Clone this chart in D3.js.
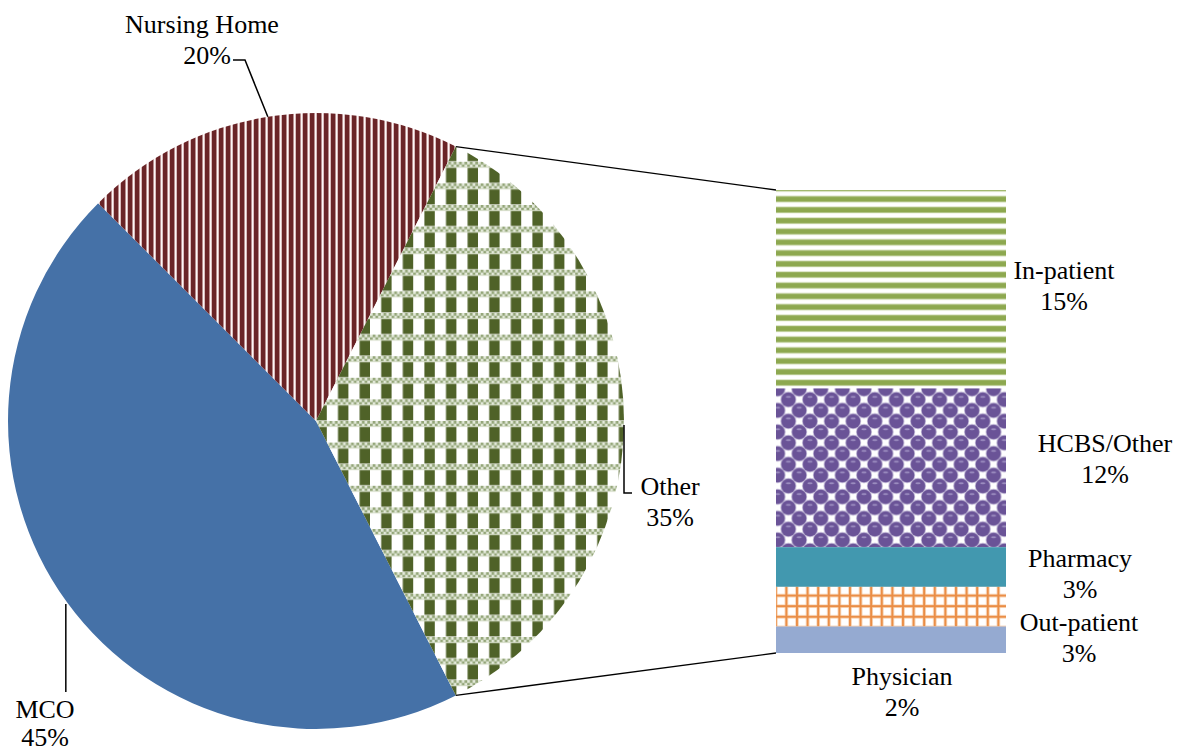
<!DOCTYPE html>
<html>
<head>
<meta charset="utf-8">
<script src="https://cdn.jsdelivr.net/npm/d3@7/dist/d3.min.js"></script>
<style>
  html, body { margin: 0; padding: 0; background: #fff; }
  svg text { font-family: "Liberation Serif", "Times New Roman", serif; font-size: 26px; fill: #000; }
</style>
</head>
<body>
<svg id="chart" width="1179" height="754"></svg>
<script>
// Main pie
const pieLabels = ["MCO", "Nursing Home", "Other"];
const pieValues = [45, 20, 35];
// Breakdown of "Other" shown as a stacked bar
const barLabels = ["In-patient", "HCBS/Other", "Pharmacy", "Out-patient", "Physician"];
const barValues = [15, 12, 3, 3, 2];

const svg = d3.select("#chart");
const defs = svg.append("defs");
const deg = Math.PI / 180;

// ---------- fill patterns ----------
function pattern(id, w, h) {
  return defs.append("pattern").attr("id", id)
    .attr("patternUnits", "userSpaceOnUse").attr("width", w).attr("height", h);
}
// vertical maroon stripes
{
  const w = 7;
  const p = pattern("pNursing", w, 10);
  p.append("rect").attr("width", w).attr("height", 10).attr("fill", "#fdf6f6");
  p.append("rect").attr("x", 0.4).attr("width", 5.4).attr("height", 10).attr("fill", "#c09597");
  p.append("rect").attr("x", 1.0).attr("width", 4.2).attr("height", 10).attr("fill", "#6a2427");
}
// green plaid
{
  const s = 21.6, c = 2.7;
  const p = pattern("pOther", s, s);
  p.append("rect").attr("width", s).attr("height", s).attr("fill", "#ffffff");
  p.append("rect").attr("x", 0.4).attr("y", 6.0).attr("width", 10.4).attr("height", 15.0).attr("fill", "#4f6228");
  p.append("rect").attr("y", 0).attr("width", s).attr("height", 5.4).attr("fill", "#93a578");
  for (let i = 0; i < 8; i++) for (let j = 0; j < 2; j++) {
    if ((i + j) % 2 === 0) p.append("rect").attr("x", i * c).attr("y", j * c).attr("width", c).attr("height", c).attr("fill", "#e4eadb");
  }
  p.append("rect").attr("x", 0).attr("y", 5.4).attr("width", s).attr("height", 0.6).attr("fill", "#d5ddc6");
}
// horizontal green stripes
{
  const p = pattern("pInpatient", 10, 10.8);
  p.append("rect").attr("width", 10).attr("height", 10.8).attr("fill", "#ffffff");
  p.append("rect").attr("y", 1.4).attr("width", 10).attr("height", 6.6).attr("fill", "#cbd8ac");
  p.append("rect").attr("y", 2.2).attr("width", 10).attr("height", 5.0).attr("fill", "#8da84f");
}
// purple spheres
{
  const s = 21.6;
  const p = pattern("pHCBS", s, s);
  p.append("rect").attr("width", s).attr("height", s).attr("fill", "#ffffff");
  [[0, 0], [s, 0], [0, s], [s, s], [s / 2, s / 2]].forEach(([cx, cy]) => {
    p.append("circle").attr("cx", cx).attr("cy", cy).attr("r", 8.0).attr("fill", "#c2b8d8");
    p.append("circle").attr("cx", cx).attr("cy", cy).attr("r", 7.2).attr("fill", "#6a5397");
    p.append("ellipse").attr("cx", cx).attr("cy", cy - 2.6).attr("rx", 2.6).attr("ry", 1.0).attr("fill", "#9c8dc0");
  });
}
// orange grid
{
  const s = 10.6;
  const p = pattern("pOutpatient", s, s);
  p.append("rect").attr("width", s).attr("height", s).attr("fill", "#ffffff");
  p.append("rect").attr("x", 0.3).attr("width", 3.4).attr("height", s).attr("fill", "#f8d3b2");
  p.append("rect").attr("y", 0.3).attr("width", s).attr("height", 3.4).attr("fill", "#f8d3b2");
  p.append("rect").attr("x", 1.0).attr("width", 2.0).attr("height", s).attr("fill", "#ea8d45");
  p.append("rect").attr("y", 1.0).attr("width", s).attr("height", 2.0).attr("fill", "#ea8d45");
}

const pieFills = ["#4571a7", "url(#pNursing)", "url(#pOther)"];
const barFills = ["url(#pInpatient)", "url(#pHCBS)", "#4298af", "url(#pOutpatient)", "#95aad1"];

// ---------- pie ----------
const cx = 316, cy = 421, R = 308;
const start = 153 * deg;
const pie = d3.pie().sort(null).startAngle(start).endAngle(start + 2 * Math.PI);
const arcs = pie(pieValues);
const arc = d3.arc().innerRadius(0).outerRadius(R);

const gPie = svg.append("g").attr("transform", `translate(${cx},${cy})`);
gPie.selectAll("path").data(arcs).join("path")
  .attr("d", arc)
  .attr("fill", (d, i) => pieFills[i]);

const pt = (a, r) => [cx + r * Math.sin(a), cy - r * Math.cos(a)];

// ---------- bar ----------
const barX = 776, barW = 230;
const total = d3.sum(barValues);
const y = d3.scaleLinear().domain([0, total]).range([190, 653]);
const cum = d3.cumsum(barValues);
const segs = barValues.map((v, i) => ({ label: barLabels[i], v, y0: cum[i] - v, y1: cum[i] }));

svg.append("g").selectAll("rect").data(segs).join("rect")
  .attr("x", barX).attr("width", barW)
  .attr("y", d => y(d.y0)).attr("height", d => y(d.y1) - y(d.y0))
  .attr("fill", (d, i) => barFills[i]);

// connector lines from the "Other" slice to the bar
const other = arcs[2];
const pTop = pt(other.startAngle, R), pBot = pt(other.endAngle, R);
svg.append("line").attr("x1", pTop[0]).attr("y1", pTop[1]).attr("x2", barX).attr("y2", y(0))
  .attr("stroke", "#000").attr("stroke-width", 1.3);
svg.append("line").attr("x1", pBot[0]).attr("y1", pBot[1]).attr("x2", barX).attr("y2", y(total))
  .attr("stroke", "#000").attr("stroke-width", 1.3);

// ---------- labels & leader lines ----------
const mid = d => (d.startAngle + d.endAngle) / 2;
const leader = pts => svg.append("path").attr("d", d3.line()(pts))
  .attr("fill", "none").attr("stroke", "#000").attr("stroke-width", 1.5);

const mMco = pt(mid(arcs[0]), R);
leader([[mMco[0] - 1, mMco[1] + 2], [mMco[0] - 1, 692]]);
const mNh = pt(mid(arcs[1]), R);
leader([[mNh[0], mNh[1]], [245, 60], [233, 60]]);
const mOt = pt(mid(arcs[2]), R);
leader([[mOt[0], mOt[1] + 4], [mOt[0], 493], [632, 493]]);

function label(x, yb, lines, gap = 31) {
  const t = svg.append("text").attr("text-anchor", "middle");
  lines.forEach((s, i) => t.append("tspan").attr("x", x).attr("y", yb + i * gap).text(s));
}
const pct = v => v + "%";
label(45, 718, [pieLabels[0], pct(pieValues[0])], 28);
label(202, 33, [pieLabels[1]]);
svg.append("text").attr("x", 231).attr("y", 64).attr("text-anchor", "end").text(pct(pieValues[1]));
label(670, 495, [pieLabels[2], pct(pieValues[2])]);

const barLabelPos = [[1064, 279], [1105, 452], [1080, 567], [1079, 631], [902, 685]];
segs.forEach((d, i) => label(barLabelPos[i][0], barLabelPos[i][1], [d.label, pct(d.v)]));
</script>
</body>
</html>
